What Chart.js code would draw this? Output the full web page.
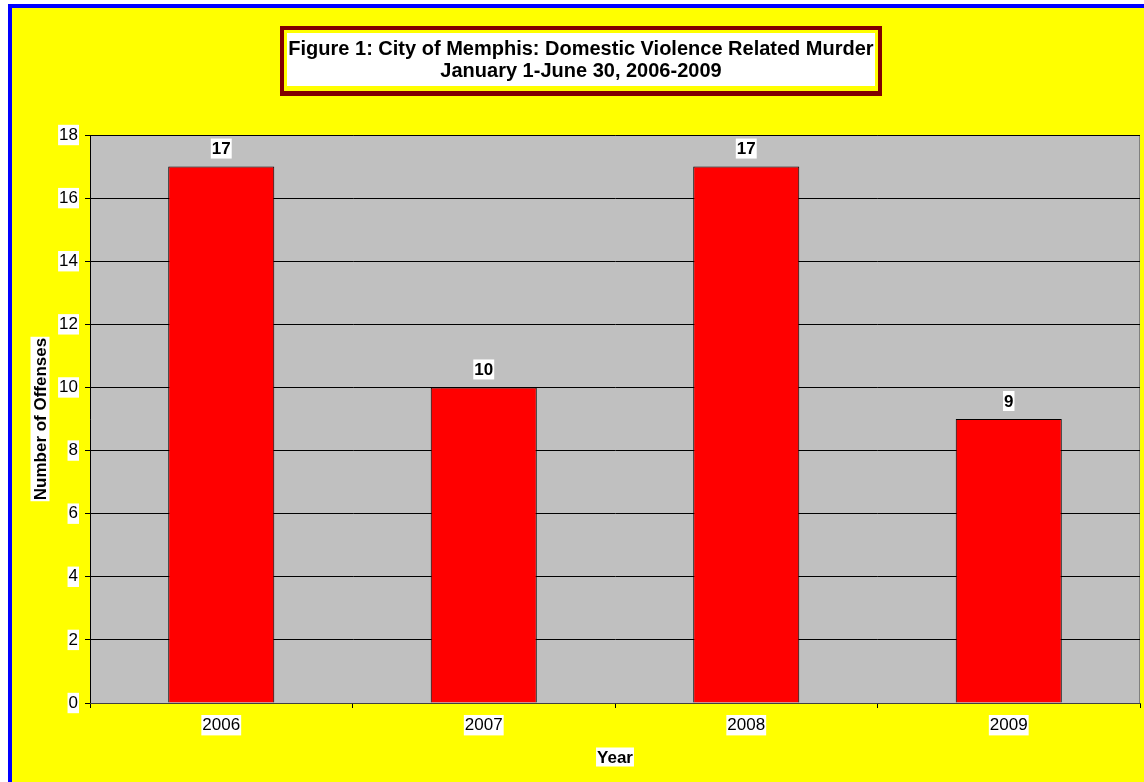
<!DOCTYPE html>
<html>
<head>
<meta charset="utf-8">
<script src="https://cdn.jsdelivr.net/npm/chart.js@4/dist/chart.umd.min.js"></script>
<style>
  html, body { margin: 0; padding: 0; background: #ffffff; }
  canvas { display: block; }
</style>
</head>
<body>
<canvas id="c" width="1144" height="782"></canvas>
<script>
const categories = ["2006", "2007", "2008", "2009"];
const offenses = [17, 10, 17, 9];
const titleLines = ["Figure 1: City of Memphis: Domestic Violence Related Murder", "January 1-June 30, 2006-2009"];
const yAxisTitle = "Number of Offenses";
const xAxisTitle = "Year";

const FONT = "'Liberation Sans', Arial, sans-serif";

function textWithBackdrop(ctx, text, x, y, font, h) {
  ctx.save();
  ctx.font = font;
  ctx.textAlign = "center";
  ctx.textBaseline = "middle";
  const w = ctx.measureText(text).width;
  ctx.fillStyle = "#ffffff";
  ctx.fillRect(x - w / 2 - 1, y - h / 2, w + 2, h);
  ctx.fillStyle = "#000000";
  ctx.fillText(text, x, y + 1);
  ctx.restore();
}

const decor = {
  id: "decor",
  beforeDraw(chart) {
    const ctx = chart.ctx;
    const W = chart.width, H = chart.height;
    ctx.save();
    ctx.fillStyle = "#ffffff";
    ctx.fillRect(0, 0, W, H);
    ctx.fillStyle = "#0000ff";
    ctx.fillRect(8, 4, W - 8, H - 4);
    ctx.fillStyle = "#ffff00";
    ctx.fillRect(12, 8, W - 12, H - 8);
    const a = chart.chartArea;
    ctx.fillStyle = "#c0c0c0";
    ctx.fillRect(a.left, a.top, a.right - a.left, a.bottom - a.top);
    ctx.strokeStyle = "#808080";
    ctx.lineWidth = 1;
    ctx.strokeRect(a.left + 0.5, a.top + 0.5, a.right - a.left - 1, a.bottom - a.top);
    // title box
    ctx.fillStyle = "#800000";
    ctx.fillRect(280, 26, 602, 70);
    ctx.fillStyle = "#ffff00";
    ctx.fillRect(284, 30, 594, 61);
    ctx.fillStyle = "#ffffff";
    ctx.fillRect(287, 33, 588, 53);
    ctx.restore();
  },
  afterDraw(chart) {
    const ctx = chart.ctx;
    const a = chart.chartArea;
    ctx.save();
    ctx.font = "bold 20px " + FONT;
    ctx.fillStyle = "#000000";
    ctx.textAlign = "center";
    ctx.textBaseline = "middle";
    const tw = ctx.measureText(titleLines[0]).width;
    const sx = Math.min(1, 586 / tw);
    ctx.translate(581, 0);
    ctx.scale(sx, 1);
    ctx.fillText(titleLines[0], 0, 49);
    ctx.fillText(titleLines[1], 0, 71);
    ctx.restore();
    // axis titles
    textWithBackdrop(ctx, xAxisTitle, (a.left + a.right) / 2, 757, "bold 17px " + FONT, 19);
    ctx.save();
    ctx.translate(40, (a.top + a.bottom) / 2);
    ctx.rotate(-Math.PI / 2);
    textWithBackdrop(ctx, yAxisTitle, 0, 0, "bold 17px " + FONT, 19);
    ctx.restore();
  },
  afterDatasetsDraw(chart) {
    const ctx = chart.ctx;
    const meta = chart.getDatasetMeta(0);
    meta.data.forEach((bar, i) => {
      textWithBackdrop(ctx, String(chart.data.datasets[0].data[i]), bar.x, bar.y - 18, "bold 17px " + FONT, 20);
    });
  }
};

new Chart(document.getElementById("c"), {
  type: "bar",
  data: {
    labels: categories,
    datasets: [{
      data: offenses,
      backgroundColor: "#ff0000",
      borderColor: "#000000",
      borderWidth: 1,
      barPercentage: 0.404,
      categoryPercentage: 1.0
    }]
  },
  options: {
    responsive: false,
    animation: false,
    devicePixelRatio: 1,
    layout: { padding: { left: 0, top: 135, right: 4, bottom: 0 } },
    plugins: { legend: { display: false }, tooltip: { enabled: false }, title: { display: false } },
    scales: {
      y: {
        min: 0, max: 18,
        ticks: {
          stepSize: 2,
          color: "#000000",
          font: { family: FONT, size: 17 },
          padding: 7,
          showLabelBackdrop: true,
          backdropColor: "#ffffff",
          backdropPadding: { top: 0, bottom: 0, left: 1, right: 1 }
        },
        grid: { color: "#000000", lineWidth: 1, tickLength: 5 },
        border: { color: "#000000", width: 1 },
        afterFit(s) { s.width = 90; }
      },
      x: {
        ticks: {
          color: "#000000",
          font: { family: FONT, size: 17 },
          padding: 7,
          showLabelBackdrop: true,
          backdropColor: "#ffffff",
          backdropPadding: { top: 0, bottom: 0, left: 1, right: 1 }
        },
        grid: { offset: true, drawOnChartArea: false, color: "#000000", tickLength: 5 },
        border: { color: "#404040", width: 1 },
        afterFit(s) { s.height = 79; }
      }
    }
  },
  plugins: [decor]
});
</script>
</body>
</html>
